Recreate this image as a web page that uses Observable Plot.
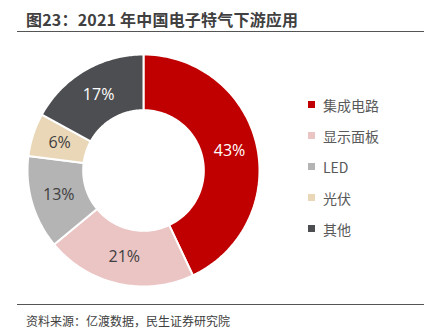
<!DOCTYPE html>
<html><head><meta charset="utf-8">
<script src="https://cdn.jsdelivr.net/npm/d3@7"></script>
<script src="https://cdn.jsdelivr.net/npm/@observablehq/plot@0.6"></script>
<style>
body{margin:0;width:434px;height:333px;background:#fff;font-family:"Noto Sans CJK SC","Open Sans",sans-serif;position:relative;overflow:hidden}
#title{position:absolute;left:26px;top:7px;font-size:16px;font-weight:bold;color:#404040;letter-spacing:0.2px}
.rule{position:absolute;left:17px;width:407px;height:0;border-top:1.5px solid #555}
#chart{position:absolute;left:0;top:40px}
#legend{position:absolute;left:308px;top:89px}
.li{display:flex;align-items:center;height:31px;font-size:14px;color:#595959}
.sw{width:7px;height:7px;margin-right:8px}
#cap{position:absolute;left:26px;top:312px;font-size:12px;color:#404040}
</style></head><body>
<div id="title">图23：2021 年中国电子特气下游应用</div>
<div class="rule" style="top:31px"></div>
<div id="chart"></div>
<div id="legend"></div>
<div class="rule" style="top:304px"></div>
<div id="cap">资料来源：亿渡数据，民生证券研究院</div>
<script>
const categories = ["集成电路", "显示面板", "LED", "光伏", "其他"];
const values = [43, 21, 13, 6, 17];
const colors = ["#C00000", "#EBC4C4", "#B4B4B4", "#E9D7B8", "#4C4E51"];
const labelColors = ["#fff", "#404040", "#404040", "#404040", "#fff"];

const inner = 0.52, outer = 1;
const arcs = d3.pie().sort(null).value(d => d.v)(categories.map((c, i) => ({c, v: values[i], i})));
const polys = [];
const labels = [];
for (const a of arcs) {
  const n = 80;
  for (let k = 0; k <= n; k++) {
    const t = a.startAngle + (a.endAngle - a.startAngle) * k / n;
    polys.push({x: outer * Math.sin(t), y: outer * Math.cos(t), c: a.data.c});
  }
  for (let k = n; k >= 0; k--) {
    const t = a.startAngle + (a.endAngle - a.startAngle) * k / n;
    polys.push({x: inner * Math.sin(t), y: inner * Math.cos(t), c: a.data.c});
  }
  const m = (a.startAngle + a.endAngle) / 2, r = (inner + outer) / 2;
  labels.push({x: r * Math.sin(m), y: r * Math.cos(m), t: a.data.v + "%", i: a.data.i});
}

const chart = Plot.plot({
  width: 434, height: 260,
  margin: 0,
  x: {domain: [-1, 1], range: [27, 259], axis: null},
  y: {domain: [-1, 1], range: [246, 14], axis: null},
  color: {domain: categories, range: colors},
  style: {fontFamily: "'Open Sans','Noto Sans CJK SC',sans-serif"},
  marks: [
    Plot.line(polys, {x: "x", y: "y", z: "c", fill: "c", stroke: "white", strokeWidth: 2, curve: "linear-closed"}),
    Plot.text(labels, {x: "x", y: "y", text: "t", fill: d => labelColors[d.i], fontSize: 16})
  ]
});
document.getElementById("chart").appendChild(chart);

const lg = document.getElementById("legend");
categories.forEach((c, i) => {
  const row = document.createElement("div");
  row.className = "li";
  row.innerHTML = `<span class="sw" style="background:${colors[i]}"></span><span>${c}</span>`;
  lg.appendChild(row);
});
</script>
</body></html>
